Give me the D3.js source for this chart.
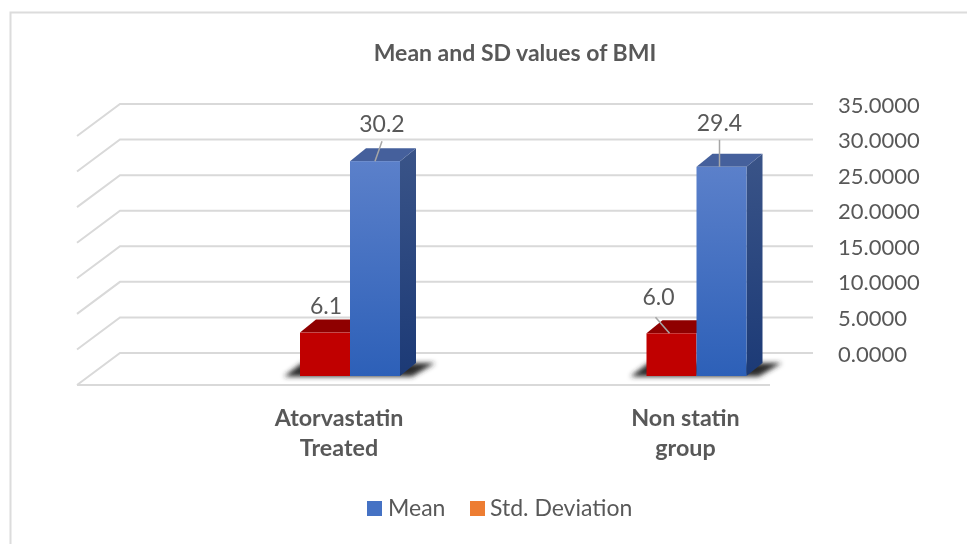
<!DOCTYPE html>
<html>
<head>
<meta charset="utf-8">
<style>
  html, body { margin: 0; padding: 0; background: #fff; }
  svg { display: block; }
  text { font-family: Lato, "Open Sans", sans-serif; fill: #595959; }
  .soft { filter: url(#soften); }
</style>
</head>
<body>
<div id="container"></div>
<script src="https://cdn.jsdelivr.net/npm/d3@7/dist/d3.min.js"></script>
<script>
var categories = [["Atorvastatin", "Treated"], ["Non statin", "group"]];
var seriesNames = ["Std. Deviation", "Mean"];
var meanValues = [30.2, 29.4];
var sdValues = [6.1, 6.0];
var yTicks = [0, 5, 10, 15, 20, 25, 30, 35];
var chartTitle = "Mean and SD values of BMI";

var width = 967,
    height = 544;

// fake 3d: the wall sits behind the bars, floor runs forward to the lower left
var wallLeft = 120, wallRight = 813;
var floorDx = -43, floorDy = 32;
var depthDx = 16, depthDy = -13;
var barBase = 376;

var y = d3.scaleLinear().domain([0, 35]).range([353, 104]);
var unit = y(0) - y(1);
var x0 = d3.scalePoint().domain(d3.range(categories.length)).range([350, 696.5]);
var x1 = d3.scaleBand().domain(seriesNames).range([-50, 50]);

var svg = d3.select("#container").append("svg")
    .attr("width", width)
    .attr("height", height);

var defs = svg.append("defs");
defs.append("filter").attr("id", "soften")
    .append("feGaussianBlur").attr("stdDeviation", 0.45);
defs.append("filter").attr("id", "shadowBlur")
    .attr("x", "-20%").attr("y", "-50%").attr("width", "140%").attr("height", "200%")
    .append("feGaussianBlur").attr("stdDeviation", 2.6);

function gradient(id, top, bottom) {
  var g = defs.append("linearGradient").attr("id", id)
      .attr("x1", 0).attr("y1", 0).attr("x2", 0).attr("y2", 1);
  g.append("stop").attr("offset", 0).attr("stop-color", top);
  g.append("stop").attr("offset", 1).attr("stop-color", bottom);
}
gradient("blueFront", "#5b80ca", "#2d60b8");
gradient("blueSide", "#3a5488", "#1c3a76");

// frame
svg.append("path")
    .attr("d", "M967,12.5H10.5V544")
    .attr("fill", "none")
    .attr("stroke", "#dcdcdc")
    .attr("stroke-width", 2);

// gridlines
var grid = svg.append("g").attr("class", "grid soft");
grid.selectAll("path")
    .data(yTicks)
    .enter()
    .append("path")
    .attr("d", function(d) {
      return "M" + (wallLeft + floorDx) + "," + (y(d) + floorDy) +
        "L" + wallLeft + "," + y(d) + "H" + wallRight;
    })
    .attr("fill", "none")
    .attr("stroke", "#d9d9d9")
    .attr("stroke-width", 2);

grid.append("line")
    .attr("x1", wallLeft + floorDx)
    .attr("x2", wallRight + floorDx)
    .attr("y1", y(0) + floorDy)
    .attr("y2", y(0) + floorDy)
    .attr("stroke", "#d9d9d9")
    .attr("stroke-width", 2);

// title
svg.append("text")
    .attr("x", 515)
    .attr("y", 61)
    .attr("text-anchor", "middle")
    .attr("font-size", 23)
    .attr("font-weight", 700)
    .attr("class", "soft")
    .text(chartTitle);

// value axis on the right
var axis = d3.axisRight(y)
    .tickValues(yTicks)
    .tickSize(0)
    .tickPadding(0)
    .tickFormat(d3.format(".4f"));

var axisG = svg.append("g")
    .attr("class", "soft")
    .attr("transform", "translate(838,1)")
    .call(axis);
axisG.select(".domain").remove();
axisG.selectAll("text")
    .attr("font-size", 22)
    .style("font-family", "Lato, 'Open Sans', sans-serif")
    .style("fill", "#595959");

// bars
var groups = svg.append("g").selectAll("g")
    .data(categories.map(function(c, i) {
      return {i: i, sd: sdValues[i], mean: meanValues[i]};
    }))
    .enter()
    .append("g")
    .attr("class", "bars");

groups.each(function(d) {
  var g = d3.select(this);
  var cx = x0(d.i);
  var bw = x1.bandwidth();
  var left = cx + x1("Std. Deviation");
  var mid = cx + x1("Mean");
  var right = mid + bw;

  g.append("path")
      .attr("d", "M" + (left - 16) + "," + (barBase + 0.5) + "L" + (left + 2) + "," + (barBase - 13) +
        "H" + (right + 35) + "L" + (right + 12) + "," + (barBase + 0.5) + "Z")
      .attr("fill", "#2a2a2a")
      .attr("filter", "url(#shadowBlur)");

  // red bar
  var sdTop = barBase - d.sd * unit;
  g.append("path")
      .attr("d", "M" + left + "," + sdTop + "l" + depthDx + "," + depthDy + "H" + (mid + 5) + "V" + sdTop + "Z")
      .attr("fill", "#8f0000");
  g.append("rect")
      .attr("x", left)
      .attr("y", sdTop)
      .attr("width", bw)
      .attr("height", barBase - sdTop)
      .attr("fill", "#c00000");

  // blue bar
  var meanTop = barBase - d.mean * unit;
  g.append("path")
      .attr("d", "M" + right + "," + meanTop + "l" + depthDx + "," + depthDy + "V" + (barBase + depthDy) +
        "l" + (-depthDx) + "," + (-depthDy) + "Z")
      .attr("fill", "url(#blueSide)");
  g.append("path")
      .attr("d", "M" + mid + "," + meanTop + "l" + depthDx + "," + depthDy + "H" + (right + depthDx) +
        "l" + (-depthDx) + "," + (-depthDy) + "Z")
      .attr("fill", "#45609c");
  g.append("rect")
      .attr("x", mid)
      .attr("y", meanTop)
      .attr("width", bw)
      .attr("height", barBase - meanTop)
      .attr("fill", "url(#blueFront)");
});

// data labels, moved off the bars by hand with leader lines like the original
var labelOffsets = [
  {i: 0, s: "Std. Deviation", dx: 1, dy: -19, leader: null},
  {i: 0, s: "Mean", dx: 7, dy: -29, leader: [0, 0, 7, -20]},
  {i: 1, s: "Std. Deviation", dx: -13, dy: -28, leader: [-2, 0, -16, -16]},
  {i: 1, s: "Mean", dx: -2, dy: -36, leader: [-2, 0, -2, -27]}
];

labelOffsets.forEach(function(o) {
  var v = o.s === "Mean" ? meanValues[o.i] : sdValues[o.i];
  var cx = x0(o.i) + x1(o.s) + x1.bandwidth() / 2;
  var top = barBase - v * unit;
  if (o.leader) {
    svg.append("line")
        .attr("x1", cx + o.leader[0])
        .attr("y1", top + o.leader[1])
        .attr("x2", cx + o.leader[2])
        .attr("y2", top + o.leader[3])
        .attr("stroke", "#a6a6a6")
        .attr("stroke-width", 1.5);
  }
  svg.append("text")
      .attr("x", cx + o.dx)
      .attr("y", top + o.dy)
      .attr("text-anchor", "middle")
      .attr("font-size", 23)
      .attr("class", "soft")
      .text(v.toFixed(1));
});

// category labels
var catLabels = svg.append("g").selectAll("text")
    .data(categories)
    .enter()
    .append("text")
    .attr("class", "soft")
    .attr("text-anchor", "middle")
    .attr("font-size", 23.3)
    .attr("font-weight", 700)
    .attr("y", 426);

catLabels.each(function(d, i) {
  var t = d3.select(this);
  d.forEach(function(line, k) {
    t.append("tspan")
        .attr("x", x0(i) - 11)
        .attr("dy", k === 0 ? 0 : 30)
        .text(line);
  });
});

// legend
var legendItems = [
  {name: "Mean", color: "#4472c4", boxX: 367, textX: 388},
  {name: "Std. Deviation", color: "#ed7d31", boxX: 470, textX: 490}
];
var legend = svg.append("g").attr("class", "legend soft");
legend.selectAll("rect")
    .data(legendItems)
    .enter()
    .append("rect")
    .attr("x", function(d) { return d.boxX; })
    .attr("y", 501)
    .attr("width", 15)
    .attr("height", 15)
    .attr("fill", function(d) { return d.color; });
legend.selectAll("text")
    .data(legendItems)
    .enter()
    .append("text")
    .attr("x", function(d) { return d.textX; })
    .attr("y", 516)
    .attr("font-size", 23)
    .text(function(d) { return d.name; });
</script>
</body>
</html>
